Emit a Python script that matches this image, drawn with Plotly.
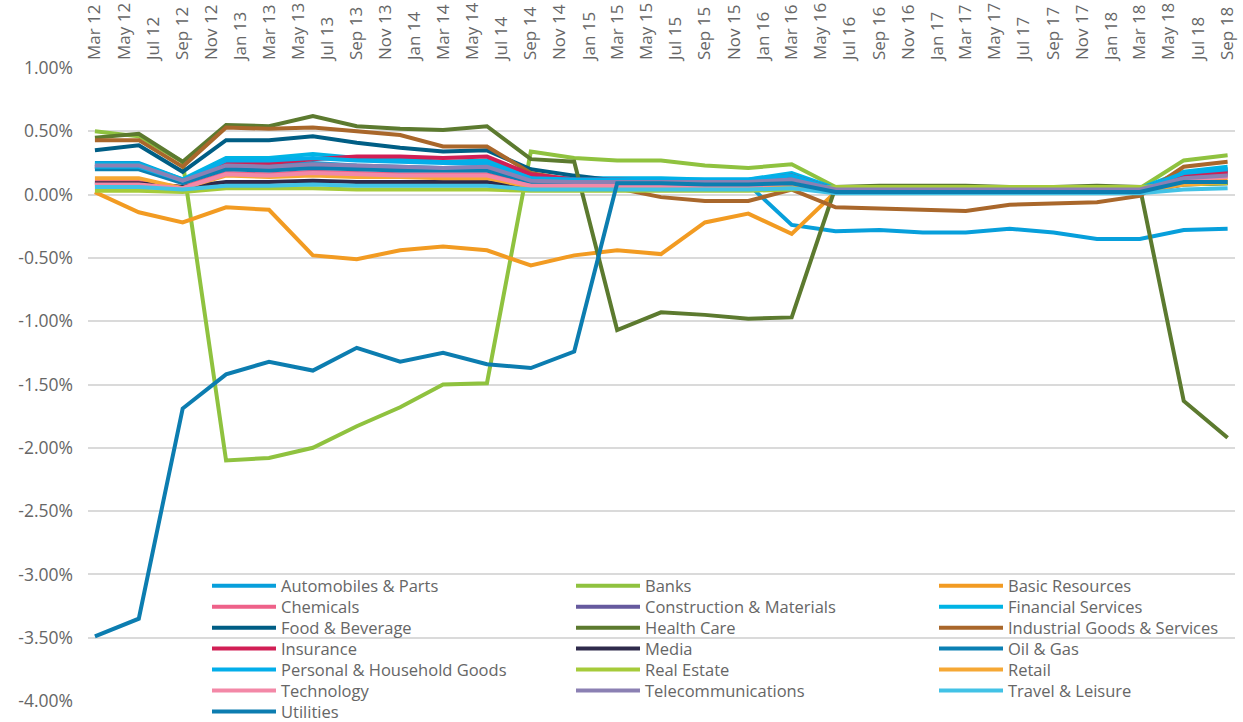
import plotly.graph_objects as go

dates = ["2012-03-01", "2012-06-01", "2012-09-01", "2012-12-01",
         "2013-03-01", "2013-06-01", "2013-09-01", "2013-12-01",
         "2014-03-01", "2014-06-01", "2014-09-01", "2014-12-01",
         "2015-03-01", "2015-06-01", "2015-09-01", "2015-12-01",
         "2016-03-01", "2016-06-01", "2016-09-01", "2016-12-01",
         "2017-03-01", "2017-06-01", "2017-09-01", "2017-12-01",
         "2018-03-01", "2018-06-01", "2018-09-01"]

automobiles_parts = [0.25, 0.25, 0.12, 0.24, 0.23, 0.25, 0.23, 0.22, 0.21, 0.22, 0.12, 0.11, 0.11, 0.10, 0.09, 0.08, -0.24, -0.29, -0.28, -0.30, -0.30, -0.27, -0.30, -0.35, -0.35, -0.28, -0.27]
banks = [0.50, 0.46, 0.26, -2.10, -2.08, -2.00, -1.83, -1.68, -1.50, -1.49, 0.34, 0.29, 0.27, 0.27, 0.23, 0.21, 0.24, 0.06, 0.06, 0.06, 0.06, 0.05, 0.05, 0.06, 0.05, 0.27, 0.31]
basic_resources = [0.02, -0.14, -0.22, -0.10, -0.12, -0.48, -0.51, -0.44, -0.41, -0.44, -0.56, -0.48, -0.44, -0.47, -0.22, -0.15, -0.31, 0.02, 0.03, 0.03, 0.03, 0.03, 0.03, 0.03, 0.03, 0.10, 0.12]
chemicals = [0.10, 0.10, 0.06, 0.17, 0.16, 0.18, 0.17, 0.16, 0.16, 0.16, 0.08, 0.08, 0.08, 0.08, 0.08, 0.08, 0.10, 0.03, 0.03, 0.03, 0.03, 0.03, 0.03, 0.03, 0.03, 0.13, 0.15]
construction_materials = [0.22, 0.22, 0.10, 0.21, 0.20, 0.22, 0.21, 0.21, 0.20, 0.20, 0.10, 0.10, 0.10, 0.10, 0.10, 0.10, 0.12, 0.04, 0.04, 0.04, 0.04, 0.04, 0.04, 0.04, 0.04, 0.14, 0.16]
financial_services = [0.24, 0.24, 0.12, 0.29, 0.29, 0.32, 0.29, 0.28, 0.26, 0.27, 0.14, 0.13, 0.13, 0.13, 0.12, 0.12, 0.17, 0.05, 0.05, 0.05, 0.05, 0.05, 0.05, 0.05, 0.05, 0.18, 0.22]
food_beverage = [0.35, 0.39, 0.18, 0.43, 0.43, 0.46, 0.41, 0.37, 0.34, 0.35, 0.20, 0.15, 0.11, 0.10, 0.09, 0.09, 0.11, 0.04, 0.04, 0.04, 0.04, 0.04, 0.04, 0.04, 0.04, 0.16, 0.19]
health_care = [0.45, 0.48, 0.26, 0.55, 0.54, 0.62, 0.54, 0.52, 0.51, 0.54, 0.28, 0.26, -1.07, -0.93, -0.95, -0.98, -0.97, 0.06, 0.07, 0.07, 0.07, 0.06, 0.06, 0.07, 0.06, -1.63, -1.92]
industrial_goods = [0.43, 0.43, 0.22, 0.53, 0.52, 0.53, 0.50, 0.47, 0.38, 0.38, 0.17, 0.11, 0.05, -0.02, -0.05, -0.05, 0.04, -0.10, -0.11, -0.12, -0.13, -0.08, -0.07, -0.06, -0.01, 0.22, 0.26]
insurance = [0.22, 0.22, 0.10, 0.25, 0.25, 0.28, 0.30, 0.30, 0.29, 0.30, 0.16, 0.12, 0.12, 0.11, 0.11, 0.11, 0.15, 0.04, 0.04, 0.04, 0.04, 0.04, 0.04, 0.04, 0.04, 0.16, 0.18]
media = [0.09, 0.09, 0.06, 0.10, 0.10, 0.11, 0.10, 0.10, 0.10, 0.10, 0.05, 0.05, 0.05, 0.05, 0.05, 0.05, 0.06, 0.02, 0.02, 0.02, 0.02, 0.02, 0.02, 0.02, 0.02, 0.08, 0.09]
oil_gas = [0.20, 0.20, 0.09, 0.20, 0.19, 0.21, 0.20, 0.19, 0.19, 0.19, 0.10, 0.09, 0.08, 0.08, 0.08, 0.08, 0.10, 0.02, 0.02, 0.02, 0.02, 0.02, 0.02, 0.02, 0.02, 0.09, 0.10]
personal_household = [0.22, 0.22, 0.11, 0.27, 0.27, 0.29, 0.27, 0.26, 0.25, 0.25, 0.13, 0.12, 0.12, 0.12, 0.12, 0.12, 0.15, 0.04, 0.04, 0.04, 0.04, 0.04, 0.04, 0.04, 0.04, 0.17, 0.20]
real_estate = [0.03, 0.03, 0.02, 0.05, 0.05, 0.05, 0.04, 0.04, 0.04, 0.04, 0.03, 0.03, 0.03, 0.03, 0.03, 0.03, 0.04, 0.06, 0.06, 0.06, 0.06, 0.06, 0.06, 0.06, 0.06, 0.08, 0.09]
retail = [0.13, 0.13, 0.05, 0.15, 0.14, 0.15, 0.14, 0.14, 0.13, 0.13, 0.06, 0.06, 0.06, 0.06, 0.06, 0.06, 0.07, 0.02, 0.02, 0.02, 0.02, 0.02, 0.02, 0.02, 0.02, 0.08, 0.10]
technology = [0.08, 0.08, 0.05, 0.16, 0.15, 0.17, 0.16, 0.15, 0.15, 0.15, 0.07, 0.07, 0.07, 0.07, 0.07, 0.07, 0.09, 0.03, 0.03, 0.03, 0.03, 0.03, 0.03, 0.03, 0.03, 0.12, 0.14]
telecommunications = [0.23, 0.23, 0.11, 0.23, 0.22, 0.24, 0.23, 0.22, 0.21, 0.22, 0.11, 0.10, 0.10, 0.10, 0.10, 0.10, 0.12, 0.04, 0.04, 0.04, 0.04, 0.04, 0.04, 0.04, 0.04, 0.13, 0.15]
travel_leisure = [0.06, 0.06, 0.04, 0.07, 0.07, 0.08, 0.07, 0.07, 0.07, 0.07, 0.04, 0.04, 0.04, 0.04, 0.04, 0.04, 0.05, 0.01, 0.01, 0.01, 0.01, 0.01, 0.01, 0.01, 0.01, 0.04, 0.05]
utilities = [-3.49, -3.35, -1.69, -1.42, -1.32, -1.39, -1.21, -1.32, -1.25, -1.34, -1.37, -1.24, 0.09, 0.09, 0.08, 0.08, 0.09, 0.02, 0.02, 0.02, 0.02, 0.02, 0.02, 0.02, 0.02, 0.10, 0.10]

series_names = ["Automobiles & Parts", "Banks", "Basic Resources", "Chemicals",
                "Construction & Materials", "Financial Services", "Food & Beverage",
                "Health Care", "Industrial Goods & Services", "Insurance", "Media",
                "Oil & Gas", "Personal & Household Goods", "Real Estate", "Retail",
                "Technology", "Telecommunications", "Travel & Leisure", "Utilities"]
series_values = [automobiles_parts, banks, basic_resources, chemicals,
                 construction_materials, financial_services, food_beverage,
                 health_care, industrial_goods, insurance, media,
                 oil_gas, personal_household, real_estate, retail,
                 technology, telecommunications, travel_leisure, utilities]
series_colors = ["#079fdb", "#8fc23f", "#f29b22", "#ee6189",
                 "#665a9e", "#00b4e5", "#005e85",
                 "#5c7a2f", "#a9672b", "#d11f55", "#2e2a4b",
                 "#0b80b3", "#03aeea", "#a6cb3a", "#f6a834",
                 "#f388a7", "#8b80b3", "#42c2e6", "#0c7db0"]

y_tick_vals = [1.0, 0.5, 0.0, -0.5, -1.0, -1.5, -2.0, -2.5, -3.0, -3.5, -4.0]
y_tick_text = ["1.00%", "0.50%", "0.00%", "-0.50%", "-1.00%", "-1.50%",
               "-2.00%", "-2.50%", "-3.00%", "-3.50%", "-4.00%"]

FONT = "'Open Sans', Lato, sans-serif"
TEXT = "#666666"

W, H = 1243, 722
ML, MR, MT, MB = 88, 8, 68, 21
PW, PH = W - ML - MR, H - MT - MB

# legend grid (3 columns, rows filled left to right)
col_left_px = [207, 571, 934]
row0_px, row_step_px = 586, 20.95

fig = go.Figure()
legend_layouts = {}
for k, (name, vals, col) in enumerate(zip(series_names, series_values, series_colors)):
    lid = "legend" if k == 0 else "legend%d" % (k + 1)
    fig.add_trace(go.Scatter(x=dates, y=vals, name=name, mode="lines",
                             line=dict(color=col, width=4), legend=lid))
    r, c = divmod(k, 3)
    cy = row0_px + r * row_step_px
    legend_layouts[lid] = dict(
        x=(col_left_px[c] - ML) / PW, xanchor="left",
        y=(H - MB - cy) / PH, yanchor="middle",
        orientation="v", itemwidth=64, bgcolor="rgba(0,0,0,0)", borderwidth=0,
        font=dict(family=FONT, size=16.5, color=TEXT))

fig.update_layout(
    width=W, height=H,
    margin=dict(l=ML, r=MR, t=MT, b=MB, autoexpand=False),
    paper_bgcolor="white", plot_bgcolor="white",
    font=dict(family=FONT, color=TEXT, size=16),
    showlegend=True,
    xaxis=dict(type="date", side="top", range=["2012-02-15 12:00", "2018-09-16 12:00"],
               tick0="2012-03-01", dtick="M2", tickformat="%b %y", tickangle=-90,
               showgrid=False, showline=False, zeroline=False, ticks="",
               ticklabelstandoff=7,
               tickfont=dict(family=FONT, size=17, color=TEXT)),
    yaxis=dict(range=[-4.0, 1.0], tickvals=y_tick_vals, ticktext=y_tick_text,
               showgrid=True, gridcolor="#dadada", gridwidth=2, zeroline=False,
               showline=False, ticks="", ticklabelstandoff=14,
               tickfont=dict(family=FONT, size=17.5, color=TEXT)),
    **legend_layouts,
)

fig.write_html("out.html", config={"displayModeBar": False, "staticPlot": True},
               post_script="document.body.style.margin='0px';document.body.style.padding='0px';")
